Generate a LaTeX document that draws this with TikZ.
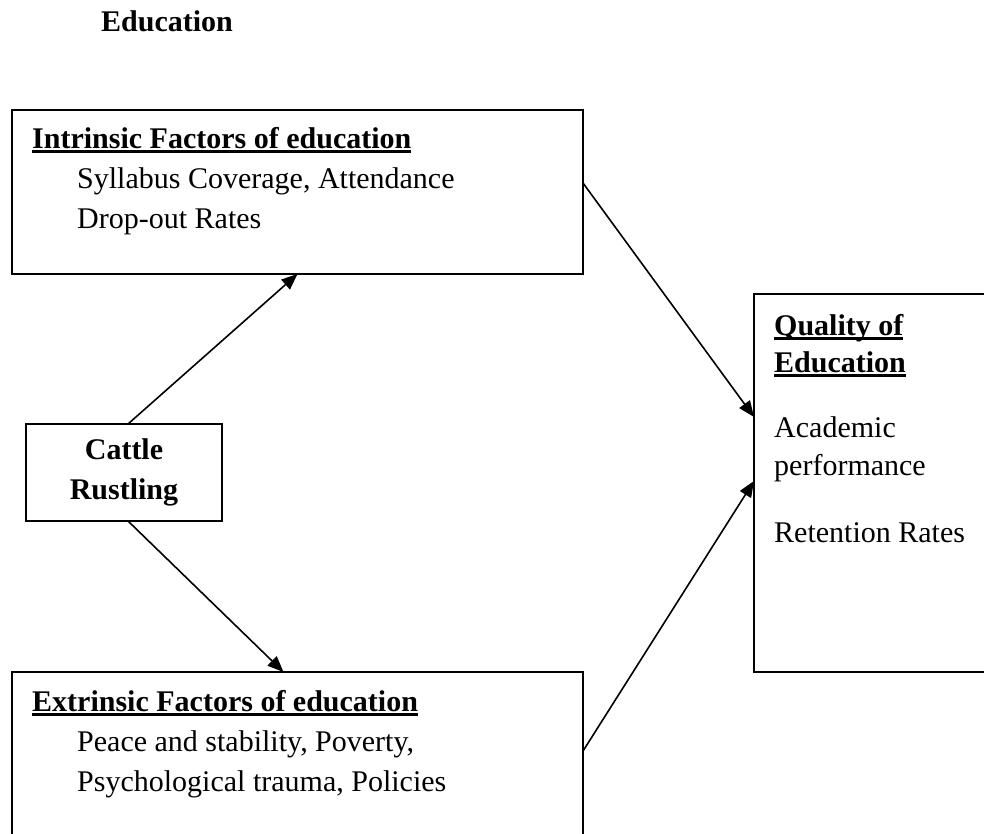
\documentclass[tikz,border=0pt]{standalone}
\usepackage{fontspec}
\setmainfont{Liberation Serif}
\usetikzlibrary{arrows.meta}
\newsavebox\ulbox
\newcommand{\ulbold}[1]{\sbox\ulbox{\bfseries #1}\rlap{\rule[-5pt]{\wd\ulbox}{3pt}}\usebox\ulbox}
\begin{document}
\begin{tikzpicture}[x=1pt,y=-1pt,
	font=\fontsize{30}{40}\selectfont,
	box/.style={draw,line width=2pt,inner sep=0pt,outer sep=0pt,anchor=north west},
	txt/.style={anchor=base west,inner sep=0pt},
	link/.style={line width=1.6pt,-{Triangle[length=16pt,width=13pt]}}]
	\path[use as bounding box,clip](0,0) rectangle (984,833);
	\node[txt,font=\fontsize{30}{40}\selectfont\bfseries] (heading) at (101,31) {Education};
	% boxes
	\node[box,minimum width=571pt,minimum height=164pt] (intr) at (12,110) {};
	\node[box,minimum width=571pt,minimum height=200pt] (extr) at (12,672) {};
	\node[box,minimum width=300pt,minimum height=378pt] (qual) at (754,294) {};
	\node[box,minimum width=196pt,minimum height=97pt,align=center,font=\fontsize{30}{40}\selectfont\bfseries] (cattle) at (26,424) {Cattle\\Rustling};
	% texts
	\node[txt] (intrhead) at (32,148) {\ulbold{Intrinsic Factors of education}};
	\node[txt] (intra) at (77,188) {Syllabus Coverage, Attendance};
	\node[txt] (intrb) at (77,228) {Drop-out Rates};
	\node[txt] (extrhead) at (32,711) {\ulbold{Extrinsic Factors of education}};
	\node[txt] (extra) at (77,751) {Peace and stability, Poverty,};
	\node[txt] (extrb) at (77,791) {Psychological trauma, Policies};
	\node[txt] (qualheada) at (774,335) {\ulbold{Quality of}};
	\node[txt] (qualheadb) at (774,372) {\ulbold{Education}};
	\node[txt] (quala) at (774,437) {Academic};
	\node[txt] (qualb) at (774,475) {performance};
	\node[txt] (qualc) at (774,542) {Retention Rates};
	% arrows
	\draw[link]([xshift=4pt]cattle.north)--(intr.south);
	\draw[link]([xshift=4pt]cattle.south)--([xshift=-14pt]extr.north);
	\draw[link]([yshift=9pt]intr.east)--([yshift=66pt]qual.west);
	\draw[link]([yshift=21pt]extr.east)--([yshift=2pt]qual.west);
\end{tikzpicture}
\end{document}
